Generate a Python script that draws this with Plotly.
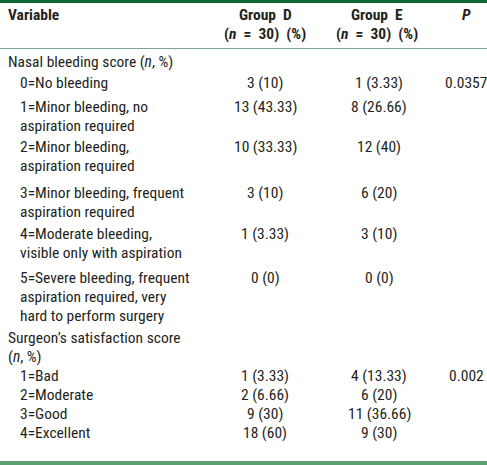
import plotly.graph_objects as go

# ---- table content ----
header_cols = ["Variable", "Group\u00a0\u00a0D", "Group\u00a0\u00a0E", "<i>P</i>"]
header_sub = ["", "(<i>n</i>\u00a0\u00a0=\u00a0\u00a030)\u00a0\u00a0(%)", "(<i>n</i>\u00a0\u00a0=\u00a0\u00a030)\u00a0\u00a0(%)", ""]

variables = [
    ["Nasal bleeding score (<i>n</i>, %)"],
    ["0=No bleeding"],
    ["1=Minor bleeding, no", "aspiration required"],
    ["2=Minor bleeding,", "aspiration required"],
    ["3=Minor bleeding, frequent", "aspiration required"],
    ["4=Moderate bleeding,", "visible only with aspiration"],
    ["5=Severe bleeding, frequent", "aspiration required, very", "hard to perform surgery"],
    ["Surgeon\u2019s satisfaction score", "(<i>n</i>, %)"],
    ["1=Bad"],
    ["2=Moderate"],
    ["3=Good"],
    ["4=Excellent"],
]
is_sub = [False, True, True, True, True, True, True, False, True, True, True, True]
group_d = ["", "3 (10)", "13 (43.33)", "10 (33.33)", "3 (10)", "1 (3.33)", "0 (0)",
           "", "1 (3.33)", "2 (6.66)", "9 (30)", "18\u00a0(60)"]
group_e = ["", "1 (3.33)", "8 (26.66)", "12 (40)", "6 (20)", "3 (10)", "0 (0)",
           "", "4 (13.33)", "6 (20)", "11 (36.66)", "9\u00a0(30)"]
p_values = ["", "0.0357", "", "", "", "", "", "", "0.002", "", "", ""]

# ---- layout (pixels) ----
W, H = 487, 465
row_y = [62, 83, 107, 147, 193, 234, 278, 338, 376, 395, 414, 433]
line_gap = 19
x_var, x_sub = 6, 18
x_d, x_e, x_p = 265, 379, 466
FONT = "Liberation Sans Narrow, Arial Narrow, Roboto Condensed, sans-serif"
TXT = "#231f20"
FS = 15.5

fig = go.Figure()
ann = []

def add(text, x, y, anchor="center", bold=False):
    ann.append(dict(text=("<b>%s</b>" % text) if bold else text, x=x, y=y,
                    xref="x", yref="y", xanchor=anchor, yanchor="middle",
                    showarrow=False, font=dict(family=FONT, size=FS, color=TXT)))

# header
add(header_cols[0], x_var, 15, "left", True)
add(header_cols[1], x_d, 15, bold=True)
add(header_cols[2], x_e - 2, 15, bold=True)
add(header_cols[3], x_p, 15, bold=True)
add(header_sub[1], x_d, 34, bold=True)
add(header_sub[2], x_e - 2, 34, bold=True)

for i, lines in enumerate(variables):
    y0 = row_y[i]
    for j, ln in enumerate(lines):
        add(ln, x_sub if is_sub[i] else x_var, y0 + j * line_gap, "left")
    if group_d[i]:
        add(group_d[i], x_d, y0)
    if group_e[i]:
        add(group_e[i], x_e, y0)
    if p_values[i]:
        add(p_values[i], x_p, y0)

shapes = [
    dict(type="rect", xref="x", yref="y", x0=0, x1=W, y0=0, y1=3,
         fillcolor="#0f6a37", line=dict(width=0)),
    dict(type="line", xref="x", yref="y", x0=0, x1=W, y0=48.5, y1=48.5,
         line=dict(color="#7aa892", width=1)),
    dict(type="rect", xref="x", yref="y", x0=0, x1=W, y0=461, y1=H,
         fillcolor="#5f9f74", line=dict(width=0)),
]

fig.update_layout(
    width=W, height=H, margin=dict(l=0, r=0, t=0, b=0),
    paper_bgcolor="white", plot_bgcolor="white",
    xaxis=dict(range=[0, W], visible=False, fixedrange=True),
    yaxis=dict(range=[H, 0], visible=False, fixedrange=True),
    annotations=ann, shapes=shapes, showlegend=False,
)
fig.write_html(
    "out.html",
    config={"displayModeBar": False},
    post_script="document.body.style.margin='0';document.body.style.overflow='hidden';",
)
